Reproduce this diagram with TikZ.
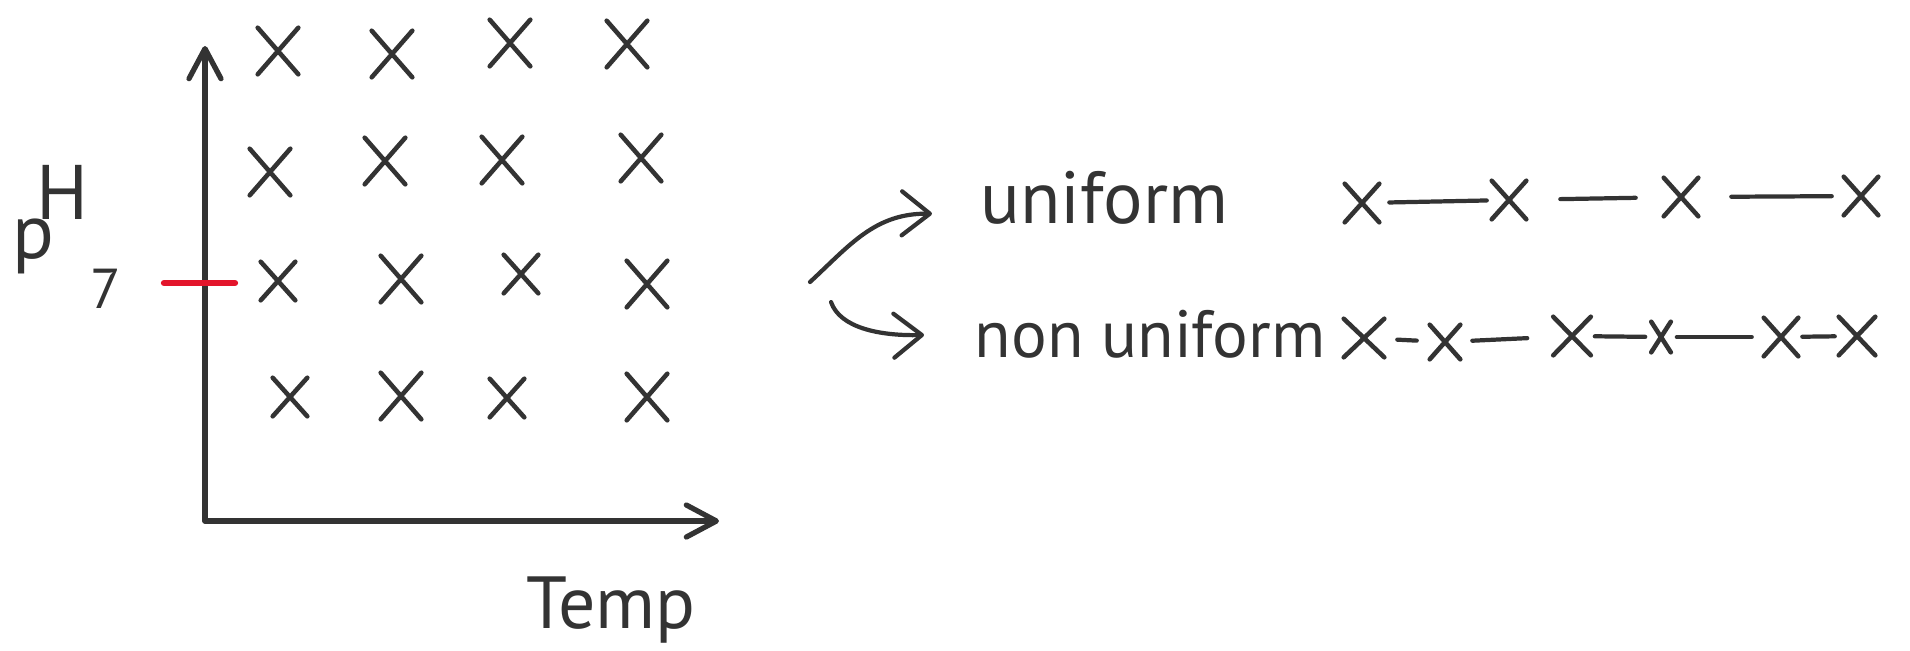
\documentclass[tikz,border=0pt]{standalone}
\usepackage{fontspec}
\setmainfont{PT Sans}
\usetikzlibrary{arrows.meta,shapes.misc}
\definecolor{ink}{HTML}{333333}
\definecolor{redink}{HTML}{E3152B}
\begin{document}
\begin{tikzpicture}[x=0.01cm,y=-0.01cm,
  inkline/.style={draw=ink,line width=1.3pt,line cap=round,line join=round},
  xmark/.style={cross out,draw=ink,line width=1.3pt,line cap=round,inner sep=0pt,minimum width=0.36cm,minimum height=0.42cm},
  smallx/.style={xmark,minimum width=0.3cm,minimum height=0.34cm},
  lbl/.style={text=ink,inner sep=0pt,font=\fontsize{21pt}{25pt}\selectfont},
  axis/.style={inkline,line width=1.5pt,{Straight Barb[length=0.3cm,width=0.32cm,round]}-{Straight Barb[length=0.3cm,width=0.32cm,round]}},
  link/.style={inkline,line width=1.2pt},
  bendarrow/.style={inkline,line width=1.2pt,-{Straight Barb[length=0.28cm,width=0.44cm,round]}}]
\useasboundingbox (0,0) rectangle (1910,650);

% axes
\coordinate (O) at (205,521);
\coordinate (ytop) at (205,46);
\coordinate (xend) at (719,521);
\draw[axis] (ytop) -- (O) -- (xend);

% red tick
\coordinate (t1) at (164,283);
\coordinate (t2) at (235,283);
\draw[draw=redink,line width=1.8pt,line cap=round] (t1) -- (t2);

% axis labels
\node[lbl,anchor=base west,font=\fontsize{22pt}{26pt}\selectfont] (ph) at (12,258) {p\hspace{-0.18cm}\raisebox{0.38cm}{H}};
\node[lbl,anchor=base west,font=\fontsize{16pt}{19pt}\selectfont] (seven) at (90,308) {7};
\node[lbl,anchor=base west] (temp) at (526,628) {Temp};

% grid of crosses
\node[xmark] (g11) at (278,51) {};
\node[xmark] (g12) at (392,54) {};
\node[xmark] (g13) at (510,43) {};
\node[xmark] (g14) at (627,44) {};
\node[xmark] (g21) at (270,172) {};
\node[xmark] (g22) at (385,161) {};
\node[xmark] (g23) at (502,160) {};
\node[xmark] (g24) at (641,158) {};
\node[smallx] (g31) at (278,281) {};
\node[xmark] (g32) at (401,279) {};
\node[smallx] (g33) at (521,274) {};
\node[xmark] (g34) at (647,284) {};
\node[smallx] (g41) at (290,397) {};
\node[xmark] (g42) at (401,396) {};
\node[smallx] (g43) at (507,398) {};
\node[xmark] (g44) at (647,397) {};

% labels on the right
\node[lbl,anchor=base west] (uni) at (980,223) {uniform};
\node[lbl,anchor=base west,font=\fontsize{19pt}{23pt}\selectfont] (nonuni) at (974,357) {non uniform};

% branching arrows
\coordinate (f1) at (810,282);
\coordinate (f2) at (831,302);
\draw[bendarrow,shorten >=0.48cm] (f1) .. controls (850,245) and (875,213) .. ([yshift=-0.17cm]uni.west);
\draw[bendarrow,shorten >=0.5cm] (f2) .. controls (840,328) and (880,336) .. (nonuni.west);

% uniform row
\node[smallx] (u1) at (1362,203) {};
\node[smallx] (u2) at (1509,200) {};
\node[smallx] (u3) at (1681,197) {};
\node[smallx] (u4) at (1861,196) {};
\draw[link,shorten <=0.1cm,shorten >=0.05cm] (u1) -- (u2);
\draw[link,shorten <=0.34cm,shorten >=0.28cm] (u2) -- (u3);
\draw[link,shorten <=0.33cm,shorten >=0.12cm] (u3) -- (u4);

% non uniform row
\node[smallx,minimum width=0.36cm] (n1) at (1364,338) {};
\node[smallx,minimum width=0.26cm,minimum height=0.3cm] (n2) at (1445,342) {};
\node[smallx,minimum width=0.33cm] (n3) at (1572,336) {};
\node[smallx,minimum width=0.15cm,minimum height=0.26cm] (n4) at (1661,337) {};
\node[smallx] (n5) at (1781,337) {};
\node[smallx,minimum width=0.32cm] (n6) at (1857,336) {};
\draw[link,shorten <=0.13cm,shorten >=0.13cm] (n1) -- (n2);
\draw[link,shorten <=0.12cm,shorten >=0.26cm] (n2) -- (n3);
\draw[link,shorten <=0.04cm,shorten >=0.06cm] (n3) -- (n4);
\draw[link,shorten <=0.06cm,shorten >=0.12cm] (n4) -- (n5);
\draw[link,shorten <=0.04cm,shorten >=0.04cm] (n5) -- (n6);
\end{tikzpicture}
\end{document}
